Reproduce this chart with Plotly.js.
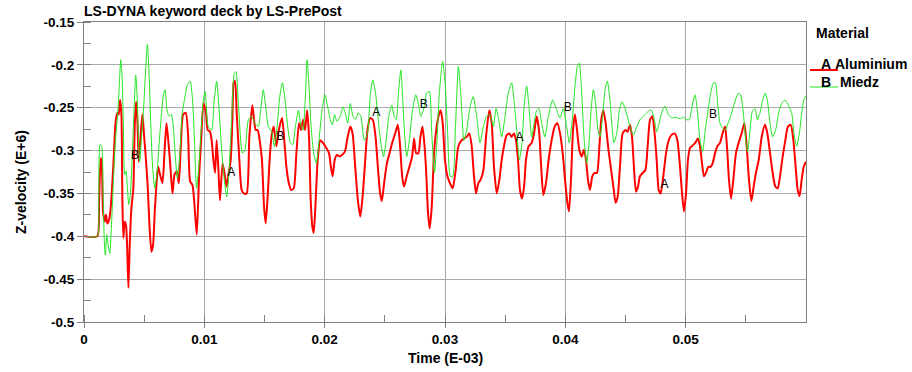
<!DOCTYPE html>
<html>
<head>
<meta charset="utf-8">
<script src="https://cdn.plot.ly/plotly-3.0.1.min.js"></script>
<style>html,body{margin:0;padding:0;background:#fff;}#chart{width:912px;height:372px;}</style>
</head>
<body>
<div id="chart"></div>
<script>
// Time (E-03)
const alumT = [0,0.0011,0.00125,0.00139,0.00147,0.00158,0.00172,0.00183,0.00194,0.00208,0.00222,0.00244,0.00263,0.00277,0.00288,0.003,0.00311,0.00319,0.00327,0.00338,0.00349,0.00358,0.00369,0.0038,0.00394,0.0041,0.00422,0.00433,0.00444,0.00455,0.00469,0.00485,0.00499,0.00516,0.0053,0.00544,0.0056,0.00574,0.00588,0.00602,0.00616,0.00632,0.00652,0.00668,0.00685,0.00699,0.00715,0.00735,0.00752,0.00771,0.00788,0.00804,0.00824,0.00846,0.00865,0.00882,0.00901,0.00918,0.00937,0.00957,0.00973,0.00993,0.01012,0.01028,0.01047,0.01061,0.01075,0.01089,0.01102,0.01116,0.0113,0.01152,0.01172,0.01186,0.01199,0.01219,0.01233,0.01244,0.01255,0.01269,0.01291,0.0131,0.0133,0.01352,0.01374,0.01399,0.01413,0.01427,0.01443,0.01463,0.01479,0.01496,0.0151,0.01526,0.01546,0.01562,0.01577,0.01599,0.01619,0.01646,0.01666,0.01682,0.01702,0.01721,0.01743,0.01765,0.01787,0.01804,0.0182,0.01837,0.01854,0.0187,0.01884,0.01898,0.01909,0.01923,0.01942,0.01964,0.01986,0.02014,0.02036,0.02052,0.02066,0.02083,0.02102,0.02124,0.02146,0.02169,0.02191,0.02213,0.02232,0.02254,0.02276,0.02296,0.02315,0.02337,0.02356,0.02378,0.024,0.02423,0.02442,0.02461,0.02475,0.02494,0.02517,0.02539,0.02561,0.02586,0.02608,0.02627,0.02644,0.0266,0.02682,0.02704,0.02727,0.02743,0.0276,0.02779,0.02796,0.02812,0.02826,0.02843,0.02859,0.02873,0.0289,0.02909,0.02931,0.0295,0.02964,0.02981,0.03,0.0302,0.03041,0.03064,0.03086,0.03111,0.03138,0.0318,0.03202,0.03222,0.03241,0.03258,0.03277,0.03296,0.03319,0.03341,0.03368,0.03388,0.03407,0.0343,0.03452,0.03471,0.0349,0.03512,0.03535,0.03554,0.03573,0.0359,0.03607,0.03623,0.0364,0.03657,0.03673,0.03695,0.0372,0.0374,0.03762,0.03781,0.03801,0.03817,0.03839,0.03861,0.03886,0.03911,0.03934,0.03956,0.03978,0.04,0.04017,0.0403,0.04047,0.04064,0.0408,0.04097,0.04116,0.04136,0.04155,0.04172,0.04188,0.04205,0.04224,0.04244,0.04263,0.04283,0.04299,0.04316,0.04335,0.04355,0.04377,0.04399,0.04418,0.04435,0.04454,0.04476,0.04499,0.04518,0.04537,0.04554,0.0457,0.04587,0.04604,0.0462,0.04643,0.04665,0.04684,0.04704,0.04723,0.04742,0.04759,0.04776,0.04792,0.04814,0.04837,0.04859,0.04881,0.04909,0.04931,0.04953,0.0497,0.04986,0.05003,0.05019,0.05036,0.05058,0.0508,0.05102,0.05119,0.05136,0.05152,0.05169,0.05188,0.05208,0.05224,0.05244,0.05263,0.05285,0.05307,0.05327,0.05343,0.0536,0.05377,0.05396,0.05418,0.0544,0.05465,0.05488,0.05507,0.05526,0.05546,0.05565,0.05584,0.05607,0.05632,0.05659,0.05679,0.05701,0.05723,0.05745,0.05765,0.05784,0.05806,0.05828,0.0585,0.05873,0.05895,0.05914,0.05931,0.05947,0.05964,0.05981,0.06];
// Z-velocity (E+6), material A
const alumV = [-0.4,-0.4,-0.359,-0.309,-0.313,-0.371,-0.383,-0.375,-0.385,-0.381,-0.367,-0.317,-0.266,-0.256,-0.258,-0.241,-0.258,-0.359,-0.402,-0.383,-0.387,-0.41,-0.46,-0.41,-0.367,-0.344,-0.27,-0.243,-0.266,-0.313,-0.286,-0.258,-0.282,-0.313,-0.344,-0.387,-0.418,-0.41,-0.371,-0.34,-0.319,-0.328,-0.338,-0.305,-0.268,-0.286,-0.313,-0.35,-0.328,-0.324,-0.338,-0.297,-0.258,-0.256,-0.282,-0.336,-0.34,-0.363,-0.398,-0.328,-0.289,-0.245,-0.254,-0.276,-0.278,-0.288,-0.311,-0.326,-0.288,-0.319,-0.358,-0.315,-0.33,-0.342,-0.33,-0.311,-0.264,-0.221,-0.219,-0.256,-0.311,-0.346,-0.35,-0.35,-0.284,-0.247,-0.264,-0.276,-0.276,-0.291,-0.311,-0.365,-0.385,-0.354,-0.303,-0.28,-0.272,-0.295,-0.276,-0.262,-0.291,-0.319,-0.338,-0.346,-0.344,-0.303,-0.268,-0.276,-0.264,-0.276,-0.253,-0.284,-0.358,-0.389,-0.396,-0.365,-0.311,-0.288,-0.291,-0.297,-0.303,-0.319,-0.33,-0.311,-0.305,-0.307,-0.305,-0.301,-0.284,-0.272,-0.28,-0.319,-0.358,-0.377,-0.354,-0.311,-0.276,-0.262,-0.264,-0.284,-0.319,-0.35,-0.359,-0.338,-0.315,-0.303,-0.291,-0.28,-0.27,-0.295,-0.33,-0.342,-0.33,-0.319,-0.307,-0.286,-0.303,-0.303,-0.284,-0.272,-0.288,-0.323,-0.373,-0.391,-0.365,-0.303,-0.272,-0.258,-0.253,-0.268,-0.311,-0.33,-0.338,-0.344,-0.326,-0.295,-0.288,-0.284,-0.28,-0.295,-0.33,-0.35,-0.338,-0.334,-0.323,-0.284,-0.253,-0.268,-0.319,-0.35,-0.334,-0.311,-0.295,-0.282,-0.28,-0.284,-0.28,-0.288,-0.311,-0.346,-0.356,-0.342,-0.311,-0.295,-0.291,-0.28,-0.26,-0.276,-0.323,-0.352,-0.338,-0.311,-0.288,-0.272,-0.268,-0.28,-0.303,-0.338,-0.361,-0.371,-0.334,-0.276,-0.258,-0.276,-0.299,-0.307,-0.299,-0.311,-0.334,-0.346,-0.33,-0.326,-0.326,-0.295,-0.264,-0.253,-0.268,-0.295,-0.319,-0.342,-0.361,-0.354,-0.319,-0.28,-0.276,-0.278,-0.27,-0.284,-0.319,-0.348,-0.342,-0.33,-0.326,-0.323,-0.295,-0.264,-0.26,-0.28,-0.311,-0.346,-0.35,-0.33,-0.303,-0.288,-0.282,-0.28,-0.288,-0.319,-0.35,-0.371,-0.35,-0.311,-0.297,-0.294,-0.291,-0.286,-0.295,-0.315,-0.33,-0.326,-0.319,-0.319,-0.315,-0.303,-0.295,-0.291,-0.28,-0.272,-0.295,-0.334,-0.356,-0.334,-0.303,-0.291,-0.28,-0.268,-0.295,-0.334,-0.359,-0.342,-0.326,-0.311,-0.284,-0.27,-0.28,-0.303,-0.326,-0.342,-0.344,-0.33,-0.307,-0.288,-0.272,-0.27,-0.288,-0.319,-0.346,-0.353,-0.334,-0.319,-0.313];

const miedzT = [0,0.0011,0.00122,0.00133,0.00147,0.00158,0.00169,0.00177,0.00189,0.002,0.00214,0.00227,0.00244,0.00261,0.00277,0.00291,0.00305,0.00316,0.00327,0.00338,0.00349,0.00361,0.00372,0.00385,0.00399,0.00413,0.0043,0.00441,0.00455,0.00463,0.00477,0.00494,0.0051,0.00527,0.00541,0.00555,0.00571,0.00588,0.00605,0.00624,0.00643,0.0066,0.00674,0.00691,0.0071,0.00727,0.00743,0.0076,0.00776,0.00796,0.00815,0.00837,0.0086,0.00882,0.00901,0.00918,0.00935,0.00951,0.00971,0.0099,0.01007,0.01033,0.01061,0.0108,0.01102,0.01119,0.01144,0.01166,0.01186,0.01205,0.01227,0.01249,0.01263,0.01283,0.01316,0.01338,0.01366,0.01393,0.01421,0.01449,0.01471,0.0149,0.0151,0.01532,0.0156,0.01582,0.01605,0.01627,0.01649,0.01671,0.01693,0.01715,0.01735,0.01757,0.01782,0.01804,0.0182,0.01837,0.01854,0.0187,0.01887,0.01909,0.01931,0.01953,0.01978,0.02003,0.02025,0.02047,0.02064,0.02083,0.02102,0.0213,0.02152,0.02171,0.02191,0.02213,0.02235,0.02257,0.02279,0.02301,0.02329,0.02356,0.02378,0.024,0.02423,0.02445,0.02467,0.02489,0.02511,0.02533,0.02558,0.02577,0.02594,0.02613,0.02633,0.02649,0.02666,0.02682,0.02704,0.02727,0.02757,0.02779,0.02798,0.0282,0.02848,0.0287,0.0289,0.02912,0.02931,0.02953,0.02981,0.03003,0.03022,0.03044,0.03064,0.03086,0.03111,0.03133,0.03157,0.0318,0.03208,0.03235,0.03263,0.03291,0.03319,0.03346,0.03374,0.03402,0.03424,0.03446,0.03471,0.03499,0.03526,0.03554,0.03576,0.03596,0.03618,0.0364,0.03659,0.03679,0.03698,0.0372,0.0374,0.03762,0.03781,0.03803,0.0383,0.03859,0.03895,0.03928,0.03956,0.03983,0.04011,0.04033,0.04058,0.0408,0.041,0.04116,0.04133,0.04155,0.04177,0.04197,0.04216,0.04233,0.04252,0.04271,0.04288,0.0431,0.0433,0.04349,0.04371,0.04388,0.04404,0.04427,0.04449,0.04471,0.04493,0.04515,0.04537,0.04565,0.04593,0.0462,0.04648,0.04676,0.04698,0.04717,0.0474,0.04759,0.04773,0.048,0.04828,0.04856,0.04884,0.0492,0.04953,0.04981,0.05008,0.0503,0.05047,0.05064,0.05078,0.05097,0.05119,0.05141,0.05163,0.05186,0.05208,0.0523,0.05247,0.05266,0.05285,0.05307,0.0533,0.05352,0.05374,0.05396,0.05418,0.05438,0.05457,0.05479,0.05499,0.05515,0.05535,0.05554,0.05576,0.05596,0.05618,0.0564,0.05662,0.05679,0.05701,0.05723,0.05748,0.05773,0.05798,0.05825,0.05853,0.05881,0.059,0.05922,0.05945,0.05967,0.05986,0.06];
// Z-velocity (E+6), material B
const miedzV = [-0.4,-0.4,-0.359,-0.293,-0.295,-0.344,-0.406,-0.422,-0.398,-0.41,-0.42,-0.391,-0.336,-0.289,-0.262,-0.231,-0.194,-0.212,-0.27,-0.328,-0.324,-0.344,-0.363,-0.352,-0.313,-0.262,-0.212,-0.235,-0.297,-0.313,-0.286,-0.254,-0.212,-0.176,-0.212,-0.27,-0.321,-0.344,-0.328,-0.293,-0.258,-0.235,-0.229,-0.254,-0.26,-0.258,-0.274,-0.309,-0.332,-0.305,-0.258,-0.239,-0.223,-0.219,-0.239,-0.289,-0.344,-0.324,-0.282,-0.243,-0.231,-0.272,-0.276,-0.245,-0.219,-0.245,-0.299,-0.334,-0.354,-0.323,-0.264,-0.21,-0.208,-0.245,-0.303,-0.299,-0.264,-0.26,-0.268,-0.272,-0.249,-0.229,-0.249,-0.272,-0.278,-0.295,-0.272,-0.237,-0.221,-0.241,-0.272,-0.291,-0.293,-0.272,-0.253,-0.272,-0.276,-0.245,-0.194,-0.225,-0.272,-0.303,-0.315,-0.288,-0.253,-0.235,-0.249,-0.264,-0.27,-0.258,-0.266,-0.26,-0.249,-0.256,-0.268,-0.245,-0.26,-0.264,-0.256,-0.26,-0.288,-0.28,-0.237,-0.2175,-0.233,-0.264,-0.291,-0.307,-0.288,-0.26,-0.247,-0.26,-0.264,-0.233,-0.206,-0.241,-0.284,-0.307,-0.288,-0.256,-0.235,-0.245,-0.26,-0.253,-0.233,-0.231,-0.28,-0.326,-0.295,-0.233,-0.196,-0.225,-0.28,-0.33,-0.33,-0.276,-0.202,-0.237,-0.288,-0.276,-0.249,-0.237,-0.26,-0.291,-0.272,-0.26,-0.258,-0.272,-0.251,-0.264,-0.284,-0.26,-0.233,-0.221,-0.245,-0.276,-0.311,-0.291,-0.245,-0.225,-0.249,-0.284,-0.268,-0.253,-0.251,-0.268,-0.284,-0.26,-0.241,-0.253,-0.262,-0.251,-0.272,-0.291,-0.264,-0.225,-0.202,-0.198,-0.225,-0.284,-0.315,-0.291,-0.249,-0.229,-0.245,-0.276,-0.284,-0.26,-0.229,-0.219,-0.241,-0.272,-0.291,-0.28,-0.253,-0.243,-0.249,-0.26,-0.272,-0.282,-0.272,-0.264,-0.26,-0.256,-0.253,-0.253,-0.264,-0.278,-0.272,-0.256,-0.248,-0.258,-0.262,-0.261,-0.263,-0.261,-0.264,-0.264,-0.253,-0.241,-0.235,-0.253,-0.288,-0.301,-0.276,-0.253,-0.233,-0.221,-0.221,-0.245,-0.268,-0.274,-0.276,-0.268,-0.26,-0.249,-0.239,-0.233,-0.235,-0.256,-0.288,-0.301,-0.276,-0.254,-0.251,-0.264,-0.256,-0.241,-0.233,-0.241,-0.268,-0.284,-0.276,-0.256,-0.245,-0.241,-0.247,-0.256,-0.28,-0.295,-0.28,-0.253,-0.239,-0.236];

// curve identification labels drawn on the curves
const labelAT = [0.01223,0.02429,0.03619,0.04825,0.06023];
const labelAV = [-0.3256,-0.2558,-0.2849,-0.3407,-0.3093];
const labelBT = [0.00424,0.01631,0.02823,0.04021,0.05227];
const labelBV = [-0.3058,-0.2841,-0.2465,-0.2504,-0.2581];

const xTickVals = [0,0.01,0.02,0.03,0.04,0.05];
const xTickText = ['0','0.01','0.02','0.03','0.04','0.05'];
const yTickVals = [-0.15,-0.2,-0.25,-0.3,-0.35,-0.4,-0.45,-0.5];
const yTickText = ['-0.15','-0.2','-0.25','-0.3','-0.35','-0.4','-0.45','-0.5'];

const seriesNames = ['Aluminium','Miedz'];
const seriesTags = ['A','B'];
const seriesColors = ['#ff0000','#22e622'];

const FONT = 'Arial, "Liberation Sans", sans-serif';

const traces = [
  {x: alumT, y: alumV, mode:'lines', name: seriesNames[0], line:{color:seriesColors[0], width:2, shape:'spline', smoothing:0.6}, hoverinfo:'x+y'},
  {x: miedzT, y: miedzV, mode:'lines', name: seriesNames[1], line:{color:seriesColors[1], width:1, shape:'spline', smoothing:0.6}, hoverinfo:'x+y'},
  {x: labelAT, y: labelAV, mode:'text', text: labelAT.map(()=>seriesTags[0]), textfont:{family:FONT, size:12, color:'#000'}, hoverinfo:'skip', cliponaxis:false},
  {x: labelBT, y: labelBV, mode:'text', text: labelBT.map(()=>seriesTags[1]), textfont:{family:FONT, size:12, color:'#000'}, hoverinfo:'skip', cliponaxis:false}
];

const PW = 722, PH = 300;
const px = v => v / PW, py = v => v / PH;

const layout = {
  width: 912, height: 372,
  margin: {l:84, r:106, t:22, b:50, pad:0},
  paper_bgcolor:'#ffffff', plot_bgcolor:'#ffffff',
  showlegend:false,
  font:{family:FONT, color:'#000'},
  title:{text:'<b>LS-DYNA keyword deck by LS-PrePost</b>', font:{family:FONT, size:14, color:'#000'}, x:84/912, xanchor:'left', xref:'container', y:1-11/372, yanchor:'middle', yref:'container'},
  xaxis:{
    range:[0,0.06], tickmode:'array', tickvals:xTickVals, ticktext:xTickText,
    showgrid:true, gridcolor:'#a8a8a8', gridwidth:1,
    showline:true, linecolor:'#808080', linewidth:1, mirror:true,
    ticks:'outside', ticklen:5, tickcolor:'#808080', tickwidth:1,
    minor:{dtick:0.005, tick0:0, ticks:'inside', ticklen:7, tickcolor:'#808080', showgrid:false},
    tickfont:{family:FONT, size:13.5, color:'#000', weight:'bold'},
    zeroline:false, fixedrange:true
  },
  yaxis:{
    range:[-0.5,-0.15], tickmode:'array', tickvals:yTickVals, ticktext:yTickText,
    showgrid:true, gridcolor:'#a8a8a8', gridwidth:1,
    showline:true, linecolor:'#808080', linewidth:1, mirror:true,
    ticks:'outside', ticklen:6, tickcolor:'#808080', tickwidth:1,
    minor:{dtick:0.025, tick0:-0.5, ticks:'inside', ticklen:7, tickcolor:'#808080', showgrid:false},
    tickfont:{family:FONT, size:13.5, color:'#000', weight:'bold'},
    zeroline:false, fixedrange:true
  },
  annotations:[
    {text:'<b>Time (E-03)</b>', xref:'paper', yref:'paper', x:0.5, y:py(-36), xanchor:'center', yanchor:'middle', showarrow:false, font:{family:FONT, size:14, color:'#000'}},
    {text:'<b>Z-velocity (E+6)</b>', xref:'paper', yref:'paper', x:px(21-84), y:py(322-182), xanchor:'center', yanchor:'middle', textangle:-90, showarrow:false, font:{family:FONT, size:14, color:'#000'}},
    {text:'<b>Material</b>', xref:'paper', yref:'paper', x:px(814-84), y:py(322-33), xanchor:'left', yanchor:'middle', showarrow:false, font:{family:FONT, size:14, color:'#000'}},
    {text:'<b>'+seriesTags[0]+'</b>', xref:'paper', yref:'paper', x:px(826-84), y:py(322-64), xanchor:'center', yanchor:'middle', showarrow:false, font:{family:FONT, size:14, color:'#000'}},
    {text:'<b>'+seriesNames[0]+'</b>', xref:'paper', yref:'paper', x:px(833-84), y:py(322-64), xanchor:'left', yanchor:'middle', showarrow:false, font:{family:FONT, size:14, color:'#000'}},
    {text:'<b>'+seriesTags[1]+'</b>', xref:'paper', yref:'paper', x:px(825.5-84), y:py(322-82), xanchor:'center', yanchor:'middle', showarrow:false, font:{family:FONT, size:14, color:'#000'}},
    {text:'<b>'+seriesNames[1]+'</b>', xref:'paper', yref:'paper', x:px(837.5-84), y:py(322-82), xanchor:'left', yanchor:'middle', showarrow:false, font:{family:FONT, size:14, color:'#000'}}
  ],
  shapes:[
    {type:'line', xref:'paper', yref:'paper', x0:px(810-84), x1:px(838-84), y0:py(322-70), y1:py(322-70), line:{color:seriesColors[0], width:2}},
    {type:'line', xref:'paper', yref:'paper', x0:px(810-84), x1:px(838-84), y0:py(322-87), y1:py(322-87), line:{color:seriesColors[1], width:1}}
  ]
};

Plotly.newPlot('chart', traces, layout, {displayModeBar:false, staticPlot:true});
</script>
</body>
</html>
